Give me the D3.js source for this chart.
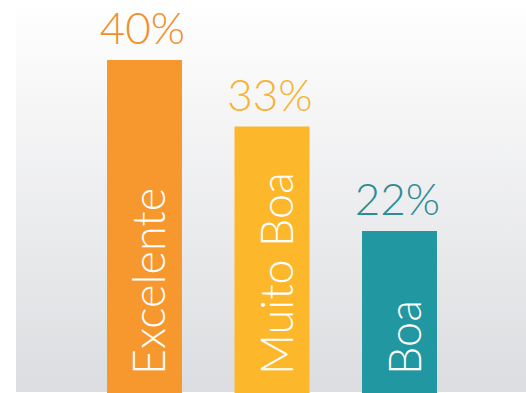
<!DOCTYPE html>
<html>
<head>
<meta charset="utf-8">
<script src="https://cdn.jsdelivr.net/npm/d3@7"></script>
<style>
  html, body { margin: 0; padding: 0; background: #fff; }
  svg { display: block; }
</style>
</head>
<body>
<svg id="chart" width="526" height="393"></svg>
<script>
const categories = ["Excelente", "Muito Boa", "Boa"]
const values = [40, 33, 22]
const valueLabels = ["40%", "33%", "22%"]
const barColors = ["#f7982f", "#fdb72b", "#2197a1"]
const labelColors = ["#ef902d", "#f7b332", "#2b8c95"]

const width = 526, height = 393
const svg = d3.select("#chart")

// soft gray backdrop
let defs = svg.append("defs")
let grad = defs.append("linearGradient")
  .attr("id", "bg").attr("x1", 0).attr("y1", 0).attr("x2", 0).attr("y2", 1)
grad.append("stop").attr("offset", "0%").attr("stop-color", "#ffffff")
grad.append("stop").attr("offset", "100%").attr("stop-color", "#dcdde0")
svg.append("rect")
  .attr("x", 16).attr("y", 0)
  .attr("width", width - 16).attr("height", 392)
  .attr("fill", "url(#bg)")

const x = d3.scaleBand()
  .domain(categories)
  .range([107, 437])
  .paddingInner(0.412)

// baseline sits below the picture, bars are cut off at the bottom
const y = d3.scaleLinear()
  .domain([0, 40])
  .range([440, 60])

let data = categories.map((c, i) => ({ cat: c, v: values[i], label: valueLabels[i], i: i }))

svg.selectAll("rect.bar")
  .data(data)
  .enter()
  .append("rect")
  .attr("class", "bar")
  .attr("x", d => x(d.cat))
  .attr("y", d => y(d.v))
  .attr("width", x.bandwidth())
  .attr("height", d => y(0) - y(d.v))
  .attr("fill", d => barColors[d.i])

svg.selectAll("text.pct")
  .data(data)
  .enter()
  .append("text")
  .attr("class", "pct")
  .attr("x", d => x(d.cat) + x.bandwidth() / 2 - 2)
  .attr("y", d => y(d.v) - 16)
  .attr("text-anchor", "middle")
  .attr("font-family", "Lato, sans-serif")
  .attr("font-weight", 300)
  .attr("font-size", 44)
  .attr("fill", d => labelColors[d.i])
  .text(d => d.label)

svg.selectAll("text.cat")
  .data(data)
  .enter()
  .append("text")
  .attr("class", "cat")
  .attr("transform", d => `translate(${x(d.cat) + x.bandwidth() / 2 + 21},375) rotate(-90)`)
  .attr("font-family", "Lato, sans-serif")
  .attr("font-weight", 300)
  .attr("font-size", 45)
  .attr("fill", "#ffffff")
  .text(d => d.cat)
</script>
</body>
</html>
